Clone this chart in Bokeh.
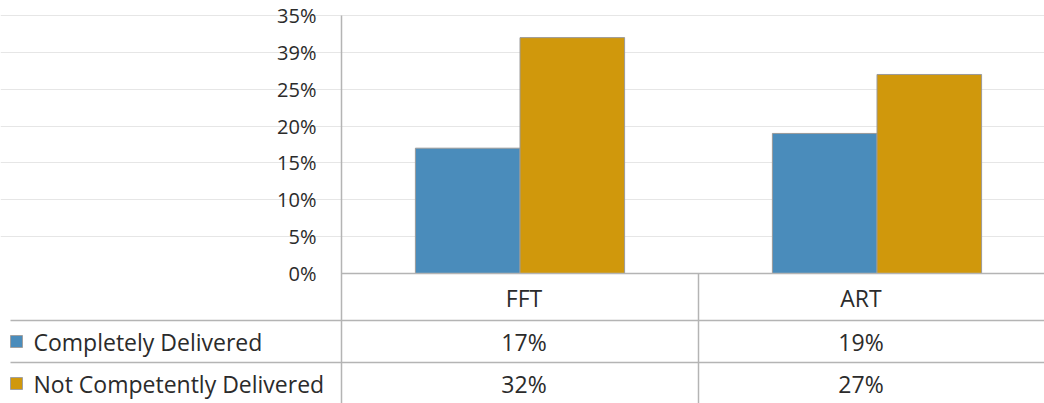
from bokeh.plotting import figure
from bokeh.models import Range1d, FixedTicker, ColumnDataSource
from bokeh.core.properties import value
from bokeh.embed import file_html
from bokeh.resources import INLINE

# ---- data ----
categories = ["FFT", "ART"]
series_names = ["Completely Delivered", "Not Competently Delivered"]
completely = [17, 19]
not_competently = [32, 27]
y_ticks = [0, 5, 10, 15, 20, 25, 30, 35]
y_tick_labels = ["0%", "5%", "10%", "15%", "20%", "25%", "39%", "35%"]

# ---- style / layout ----
BLUE = "#4A8CBB"
GOLD = "#D0980C"
LINE = "#B4B4B4"
GRID = "#E6E6E6"
TEXT = "#2B2B2B"
FONT = "Open Sans"
FS_AX = "20px"
FS = "23px"

W, H = 1044, 403
px_per_unit = 357.0
px_per_pct = 258.0 / 35.0
x0_px = 341.0      # px of x=0 (axis line)
y0_px = 273.0      # px (from top) of y=0

x_start = -x0_px / px_per_unit
x_end = (W - x0_px) / px_per_unit
y_end = y0_px / px_per_pct
y_start = -(H - y0_px) / px_per_pct

def ypx(py):  # table row position in px below the zero line -> data units
    return -py / px_per_pct

def xpx(px):  # px relative to the axis line -> data units
    return px / px_per_unit

p = figure(width=W, height=H, output_backend="svg", toolbar_location=None,
           x_range=Range1d(x_start, x_end), y_range=Range1d(y_start, y_end),
           min_border=0, min_border_left=0, min_border_right=0,
           min_border_top=0, min_border_bottom=0)
p.outline_line_color = None
p.background_fill_color = "white"
p.xaxis.visible = False
p.xgrid.visible = False

yax = p.yaxis[0]
yax.fixed_location = 0
yax.ticker = FixedTicker(ticks=y_ticks)
yax.major_label_overrides = {t: l for t, l in zip(y_ticks, y_tick_labels)}
yax.major_tick_line_color = None
yax.minor_tick_line_color = None
yax.major_tick_out = 0
yax.major_label_standoff = 25
yax.axis_line_color = LINE
yax.axis_line_width = 1.5
yax.bounds = (y_start, 35)
yax.major_label_text_font = FONT
yax.major_label_text_font_size = FS_AX
yax.major_label_text_color = TEXT

p.ygrid.ticker = FixedTicker(ticks=y_ticks[1:])
p.ygrid.grid_line_color = GRID
p.ygrid.bounds = (0, 2)

# ---- bars ----
centers = [i + 0.5 for i in range(len(categories))]
bw = 0.293
src = ColumnDataSource(dict(
    xb=[c - bw / 2 for c in centers],
    xg=[c + bw / 2 for c in centers],
    blue=completely, gold=not_competently))
p.vbar(x="xb", top="blue", bottom=0, width=bw, source=src,
       fill_color=BLUE, line_color="#9A9A9A", line_width=1)
p.vbar(x="xg", top="gold", bottom=0, width=bw, source=src,
       fill_color=GOLD, line_color="#9A9A9A", line_width=1)

# ---- data table ----
n = len(categories)
row_lines = [ypx(47), ypx(89)]
left = xpx(-331)
p.segment(x0=[0], y0=[0], x1=[n], y1=[0], line_color=LINE, line_width=1.5)
p.segment(x0=[left] * 2, y0=row_lines, x1=[n] * 2, y1=row_lines,
          line_color=LINE, line_width=1.5)
p.segment(x0=list(range(1, n + 1)), y0=[0] * n, x1=list(range(1, n + 1)),
          y1=[y_start] * n, line_color=LINE, line_width=1.5)

y_head, y_r1, y_r2 = ypx(24), ypx(68), ypx(110)
col_x = [centers[0] + xpx(4), centers[1] - xpx(16)]
p.text(x=col_x, y=[y_head] * n, text=categories, text_align="center",
       text_baseline="middle", text_font=value(FONT),
       text_font_size=value(FS), text_color=TEXT)
p.text(x=col_x, y=[y_r1] * n, text=[f"{v}%" for v in completely],
       text_align="center", text_baseline="middle", text_font=value(FONT),
       text_font_size=value(FS), text_color=TEXT)
p.text(x=col_x, y=[y_r2] * n, text=[f"{v}%" for v in not_competently],
       text_align="center", text_baseline="middle", text_font=value(FONT),
       text_font_size=value(FS), text_color=TEXT)

# legend keys + labels
p.scatter(x=[xpx(-325)] * 2, y=[y_r1, y_r2], marker="square", size=12,
          fill_color=[BLUE, GOLD], line_color="#A0A0A0", line_width=1)
p.text(x=[xpx(-308)] * 2, y=[y_r1, y_r2], text=series_names,
       text_align="left", text_baseline="middle", text_font=value(FONT),
       text_font_size=value(FS), text_color=TEXT)

open("out.html", "w").write(file_html(p, INLINE))
